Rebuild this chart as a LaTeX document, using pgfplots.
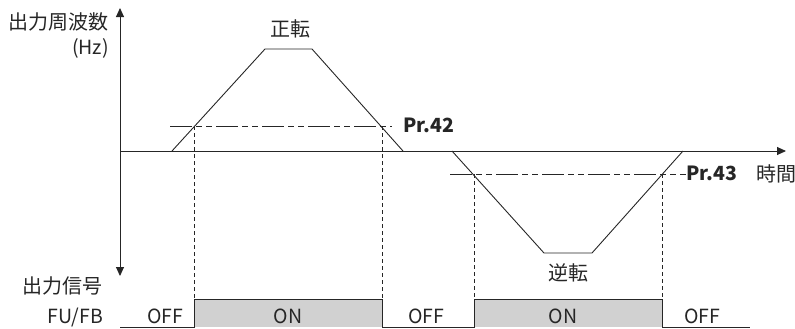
\documentclass[border=0pt]{standalone}
\usepackage{fontspec}
\setmainfont{Noto Sans CJK JP}
\usepackage{pgfplots}
\pgfplotsset{compat=1.18}
\usetikzlibrary{arrows.meta}
\begin{document}
\begin{tikzpicture}
\begin{axis}[
  x=1bp, y=1bp, scale only axis,
  xmin=0, xmax=795, ymin=0, ymax=329,
  y dir=reverse, hide axis, clip=false,
  every axis plot/.append style={line width=0.9bp, color=black!85},
]
% ON boxes
\addplot[fill=black!18, draw=none] coordinates {(194,327) (194,299) (382,299) (382,327)} -- cycle;
\addplot[fill=black!18, draw=none] coordinates {(474,327) (474,299) (662,299) (662,327)} -- cycle;
% signal line
\addplot[mark=none] coordinates {(120,327) (194,327) (194,299) (382,299) (382,327) (474,327) (474,299) (662,299) (662,327) (750,327)};
% axes
\addplot[mark=none, {Triangle[length=9bp,width=8bp]}-{Triangle[length=9bp,width=8bp]}] coordinates {(120,8) (120,276)};
\addplot[mark=none, -{Triangle[length=9bp,width=8bp]}] coordinates {(120,151) (786,151)};
% frequency curves
\addplot[mark=none] coordinates {(172,151) (265,49) (312,49) (403,151)};
\addplot[mark=none] coordinates {(452,151) (544,253) (592,253) (683,151)};
% Pr.42 / Pr.43 levels
\addplot[mark=none, line width=0.8bp, dash pattern=on 22bp off 4bp on 6bp off 4bp on 6bp off 4bp] coordinates {(170,126) (392,126)};
\addplot[mark=none, line width=0.8bp, dash pattern=on 22bp off 4bp on 6bp off 4bp on 6bp off 4bp] coordinates {(450,174) (686,174)};
% vertical dashed
\addplot[mark=none, line width=0.7bp, dash pattern=on 4bp off 3bp] coordinates {(194,126) (194,299)};
\addplot[mark=none, line width=0.7bp, dash pattern=on 4bp off 3bp] coordinates {(382,126) (382,299)};
\addplot[mark=none, line width=0.7bp, dash pattern=on 4bp off 3bp] coordinates {(474,174) (474,299)};
\addplot[mark=none, line width=0.7bp, dash pattern=on 4bp off 3bp] coordinates {(662,174) (662,299)};
% texts
\tikzset{lab/.style={inner sep=0pt, font=\fontsize{19.5bp}{23bp}\selectfont, text=black!85},
         cjk/.style={inner sep=0pt, font=\fontsize{20bp}{24bp}\selectfont, text=black!85}}
\node[cjk, anchor=east] at (axis cs:109,22) {出力周波数};
\node[lab, anchor=base east] at (axis cs:109,54) {(Hz)};
\node[cjk] at (axis cs:290,29) {正転};
\node[lab, anchor=base west, font=\fontsize{19.5bp}{23bp}\selectfont\bfseries] at (axis cs:403,132) {Pr.42};
\node[lab, anchor=base west, font=\fontsize{19.5bp}{23bp}\selectfont\bfseries] at (axis cs:686,180) {Pr.43};
\node[cjk, anchor=west] at (axis cs:756,174) {時間};
\node[cjk] at (axis cs:568,273) {逆転};
\node[cjk, anchor=east] at (axis cs:103,286) {出力信号};
\node[lab, anchor=base east] at (axis cs:103,323) {FU/FB};
\node[lab, anchor=base] at (axis cs:165.5,323) {OFF};
\node[lab, anchor=base] at (axis cs:288,323) {ON};
\node[lab, anchor=base] at (axis cs:426.5,323) {OFF};
\node[lab, anchor=base] at (axis cs:563,323) {ON};
\node[lab, anchor=base] at (axis cs:702,323) {OFF};
\end{axis}
\pgfresetboundingbox
\path[use as bounding box] (0,0) rectangle (795bp,329bp);
\end{tikzpicture}
\end{document}
